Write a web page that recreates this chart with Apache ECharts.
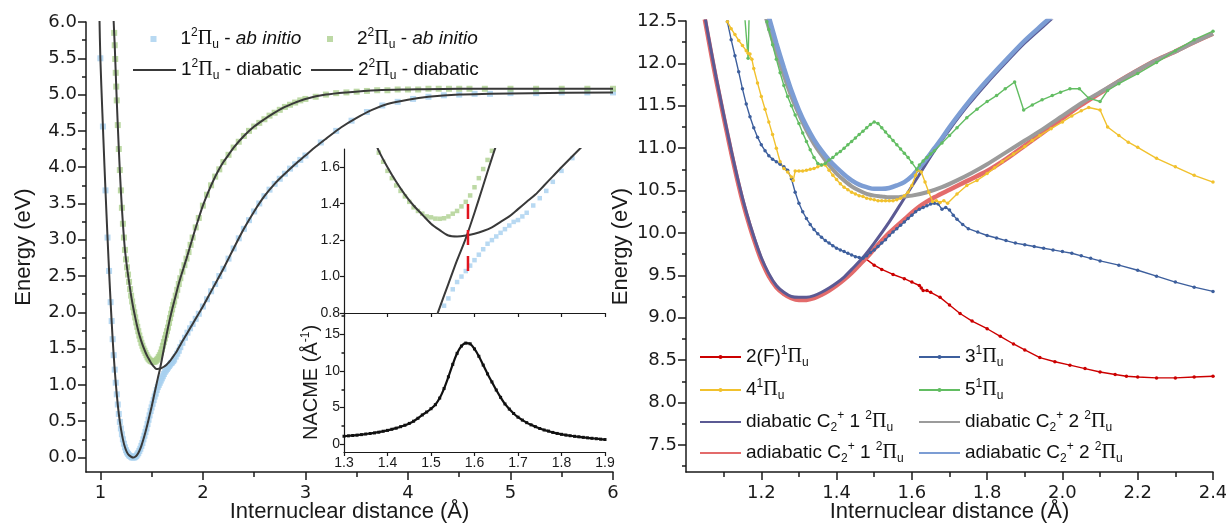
<!DOCTYPE html>
<html><head><meta charset="utf-8">
<script src="https://cdn.jsdelivr.net/npm/echarts@6/dist/echarts.min.js"></script>
<style>html,body{margin:0;padding:0;background:#fff}#c{width:1226px;height:529px}</style>
</head><body><div id="c"></div>
<script>
// ---------------- DATA (left panel, eV vs Å) ----------------
const abInitio1 = [[1.00,5.50],[1.025,4.56],[1.05,3.68],[1.07,3.03],[1.085,2.57],[1.10,2.14],[1.11,1.88],[1.12,1.63],[1.13,1.41],[1.14,1.21],[1.15,1.03],[1.16,0.87],[1.17,0.73],[1.18,0.60],[1.19,0.49],[1.20,0.40],[1.21,0.32],[1.22,0.25],[1.23,0.19],[1.24,0.14],[1.25,0.10],[1.26,0.07],[1.27,0.05],[1.28,0.03],[1.29,0.02],[1.30,0.01],[1.31,0.00],[1.32,0.00],[1.33,0.00],[1.34,0.01],[1.35,0.02],[1.36,0.04],[1.37,0.06],[1.38,0.09],[1.39,0.12],[1.40,0.16],[1.41,0.20],[1.42,0.25],[1.43,0.30],[1.44,0.35],[1.45,0.40],[1.46,0.46],[1.47,0.52],[1.48,0.58],[1.49,0.64],[1.50,0.69],[1.51,0.74],[1.52,0.79],[1.53,0.84],[1.54,0.88],[1.55,0.93],[1.56,0.97],[1.57,1.00],[1.58,1.03],[1.59,1.06],[1.60,1.09],[1.61,1.12],[1.62,1.15],[1.63,1.18],[1.64,1.20],[1.65,1.22],[1.66,1.24],[1.67,1.26],[1.68,1.28],[1.69,1.30],[1.70,1.31],[1.71,1.33],[1.72,1.35],[1.735,1.39],[1.75,1.43],[1.765,1.47],[1.78,1.52],[1.80,1.58],[1.825,1.65],[1.85,1.72],[1.875,1.78],[1.90,1.84],[1.93,1.91],[1.96,1.98],[2.00,2.08],[2.04,2.18],[2.08,2.29],[2.12,2.39],[2.16,2.50],[2.20,2.60],[2.25,2.74],[2.30,2.88],[2.35,3.02],[2.40,3.15],[2.45,3.27],[2.50,3.39],[2.55,3.50],[2.60,3.60],[2.65,3.69],[2.70,3.77],[2.75,3.84],[2.80,3.91],[2.85,3.98],[2.90,4.04],[2.95,4.10],[3.00,4.16],[3.15,4.34],[3.30,4.50],[3.45,4.64],[3.60,4.76],[3.75,4.85],[3.90,4.90],[4.05,4.94],[4.20,4.97],[4.35,4.99],[4.50,5.00],[4.65,5.01],[4.80,5.01],[5.00,5.02],[5.25,5.02],[5.50,5.03],[5.75,5.03],[6.00,5.03]];
const abInitio2 = [[1.135,5.85],[1.14,5.68],[1.145,5.49],[1.15,5.30],[1.155,5.11],[1.16,4.92],[1.17,4.58],[1.18,4.25],[1.19,3.96],[1.20,3.68],[1.21,3.44],[1.22,3.22],[1.23,3.03],[1.24,2.86],[1.25,2.73],[1.26,2.62],[1.27,2.52],[1.28,2.42],[1.29,2.32],[1.30,2.23],[1.31,2.15],[1.32,2.07],[1.33,2.00],[1.34,1.93],[1.35,1.86],[1.36,1.80],[1.37,1.74],[1.38,1.68],[1.39,1.63],[1.40,1.58],[1.41,1.54],[1.42,1.50],[1.43,1.47],[1.44,1.44],[1.45,1.41],[1.46,1.38],[1.47,1.36],[1.48,1.345],[1.49,1.33],[1.50,1.325],[1.51,1.318],[1.52,1.317],[1.53,1.32],[1.54,1.33],[1.55,1.345],[1.56,1.36],[1.57,1.385],[1.58,1.41],[1.59,1.445],[1.60,1.49],[1.61,1.54],[1.62,1.59],[1.63,1.64],[1.64,1.69],[1.65,1.74],[1.66,1.79],[1.67,1.855],[1.68,1.92],[1.69,1.98],[1.70,2.04],[1.71,2.10],[1.72,2.15],[1.735,2.23],[1.75,2.31],[1.765,2.39],[1.78,2.47],[1.80,2.56],[1.82,2.65],[1.84,2.74],[1.86,2.83],[1.88,2.93],[1.90,3.03],[1.93,3.17],[1.96,3.30],[2.00,3.47],[2.04,3.62],[2.08,3.75],[2.12,3.87],[2.16,3.97],[2.20,4.07],[2.25,4.17],[2.30,4.27],[2.35,4.35],[2.40,4.43],[2.45,4.50],[2.50,4.56],[2.55,4.61],[2.60,4.66],[2.65,4.71],[2.70,4.75],[2.75,4.79],[2.80,4.83],[2.85,4.86],[2.90,4.89],[2.95,4.92],[3.00,4.94],[3.10,4.97],[3.20,5.00],[3.30,5.02],[3.40,5.03],[3.50,5.04],[3.60,5.05],[3.70,5.06],[3.80,5.06],[3.90,5.07],[4.00,5.07],[4.10,5.07],[4.20,5.08],[4.30,5.08],[4.40,5.08],[4.50,5.08],[4.60,5.08],[4.75,5.08],[5.00,5.08],[5.25,5.08],[5.50,5.08],[5.75,5.08],[6.00,5.08]];
const diabatic1 = [[0.99,6.15],[1.00,5.50],[1.02,4.74],[1.04,4.02],[1.06,3.35],[1.08,2.72],[1.10,2.14],[1.12,1.63],[1.14,1.21],[1.16,0.87],[1.18,0.60],[1.20,0.40],[1.22,0.25],[1.24,0.14],[1.26,0.07],[1.28,0.03],[1.30,0.01],[1.32,0.00],[1.34,0.01],[1.36,0.04],[1.38,0.09],[1.40,0.16],[1.42,0.25],[1.44,0.35],[1.46,0.46],[1.48,0.58],[1.50,0.70],[1.52,0.83],[1.54,0.96],[1.56,1.09],[1.58,1.21],[1.60,1.35],[1.62,1.50],[1.64,1.65],[1.66,1.79],[1.68,1.92],[1.70,2.04],[1.72,2.15],[1.74,2.26],[1.76,2.37],[1.78,2.47],[1.80,2.56],[1.84,2.74],[1.88,2.93],[1.92,3.12],[1.96,3.30],[2.00,3.47],[2.05,3.65],[2.10,3.81],[2.15,3.95],[2.20,4.07],[2.25,4.17],[2.30,4.27],[2.40,4.43],[2.50,4.56],[2.60,4.66],[2.70,4.75],[2.80,4.83],[2.90,4.89],[3.00,4.94],[3.20,5.00],[3.40,5.03],[3.70,5.06],[4.00,5.07],[4.50,5.08],[5.00,5.08],[6.00,5.08]];
const diabatic2 = [[1.12,6.40],[1.13,6.00],[1.14,5.68],[1.15,5.30],[1.16,4.92],[1.18,4.25],[1.20,3.68],[1.22,3.22],[1.24,2.86],[1.26,2.62],[1.28,2.42],[1.30,2.23],[1.32,2.07],[1.34,1.93],[1.36,1.80],[1.38,1.69],[1.40,1.60],[1.42,1.52],[1.44,1.45],[1.46,1.39],[1.48,1.34],[1.50,1.29],[1.52,1.255],[1.54,1.225],[1.56,1.22],[1.58,1.225],[1.60,1.235],[1.62,1.25],[1.64,1.27],[1.66,1.30],[1.68,1.33],[1.70,1.37],[1.72,1.41],[1.74,1.45],[1.76,1.50],[1.78,1.55],[1.80,1.60],[1.85,1.72],[1.90,1.84],[1.95,1.96],[2.00,2.08],[2.05,2.21],[2.10,2.34],[2.15,2.47],[2.20,2.60],[2.25,2.74],[2.30,2.88],[2.40,3.15],[2.50,3.39],[2.60,3.60],[2.70,3.77],[2.80,3.91],[2.90,4.04],[3.00,4.16],[3.10,4.28],[3.20,4.39],[3.35,4.55],[3.50,4.68],[3.65,4.79],[3.80,4.87],[4.00,4.93],[4.20,4.97],[4.50,5.00],[4.80,5.01],[5.20,5.02],[6.00,5.03]];
const crossingMark = [[1.585,1.03],[1.585,1.42]];
const nacme = [[1.30,1.10],[1.31,1.15],[1.32,1.20],[1.33,1.25],[1.34,1.32],[1.35,1.40],[1.36,1.47],[1.37,1.55],[1.38,1.65],[1.39,1.78],[1.40,1.90],[1.41,2.05],[1.42,2.20],[1.43,2.40],[1.44,2.60],[1.45,2.85],[1.46,3.15],[1.47,3.55],[1.48,4.00],[1.49,4.40],[1.50,4.85],[1.51,5.40],[1.52,6.30],[1.53,7.60],[1.54,9.20],[1.55,10.90],[1.56,12.40],[1.57,13.40],[1.58,13.80],[1.59,13.70],[1.60,13.00],[1.61,12.00],[1.62,10.80],[1.63,9.60],[1.64,8.50],[1.65,7.40],[1.66,6.40],[1.67,5.50],[1.68,4.80],[1.69,4.20],[1.70,3.70],[1.71,3.30],[1.72,2.95],[1.73,2.65],[1.74,2.40],[1.75,2.15],[1.76,1.95],[1.77,1.80],[1.78,1.62],[1.79,1.48],[1.80,1.36],[1.81,1.26],[1.82,1.17],[1.83,1.09],[1.84,1.02],[1.85,0.95],[1.86,0.88],[1.87,0.82],[1.88,0.76],[1.89,0.70],[1.90,0.65]];

// ---------------- DATA (right panel) ----------------
const state2F = [[1.05,12.52],[1.06,12.28],[1.08,11.81],[1.10,11.37],[1.12,10.95],[1.14,10.56],[1.16,10.22],[1.18,9.93],[1.20,9.68],[1.22,9.49],[1.24,9.36],[1.26,9.28],[1.28,9.23],[1.30,9.21],[1.32,9.21],[1.34,9.23],[1.36,9.27],[1.38,9.32],[1.40,9.38],[1.42,9.45],[1.44,9.53],[1.46,9.62],[1.47,9.67],[1.476,9.70],[1.50,9.62],[1.52,9.57],[1.55,9.51],[1.58,9.46],[1.60,9.42],[1.62,9.38],[1.625,9.35],[1.63,9.32],[1.64,9.32],[1.65,9.30],[1.675,9.24],[1.70,9.15],[1.728,9.05],[1.76,8.96],[1.80,8.87],[1.835,8.78],[1.87,8.69],[1.90,8.62],[1.94,8.53],[1.98,8.48],[2.02,8.44],[2.06,8.40],[2.10,8.36],[2.14,8.33],[2.17,8.31],[2.20,8.30],[2.25,8.29],[2.30,8.29],[2.35,8.30],[2.40,8.31]];
const state3 = [[1.11,12.49],[1.12,12.28],[1.13,12.09],[1.14,11.90],[1.15,11.70],[1.16,11.52],[1.17,11.37],[1.18,11.24],[1.19,11.13],[1.20,11.04],[1.21,10.97],[1.22,10.91],[1.23,10.87],[1.24,10.84],[1.25,10.81],[1.26,10.78],[1.27,10.74],[1.28,10.64],[1.29,10.48],[1.30,10.35],[1.31,10.25],[1.32,10.17],[1.33,10.10],[1.34,10.04],[1.35,9.99],[1.36,9.95],[1.37,9.91],[1.38,9.88],[1.39,9.85],[1.40,9.82],[1.41,9.80],[1.42,9.78],[1.43,9.76],[1.44,9.74],[1.45,9.72],[1.46,9.71],[1.47,9.70],[1.48,9.73],[1.49,9.77],[1.50,9.80],[1.51,9.84],[1.52,9.88],[1.53,9.92],[1.54,9.97],[1.55,10.01],[1.56,10.05],[1.57,10.09],[1.58,10.13],[1.59,10.17],[1.60,10.21],[1.61,10.25],[1.62,10.28],[1.63,10.30],[1.64,10.32],[1.65,10.34],[1.66,10.35],[1.67,10.34],[1.68,10.28],[1.69,10.30],[1.70,10.27],[1.71,10.21],[1.72,10.16],[1.735,10.10],[1.75,10.05],[1.775,10.01],[1.80,9.97],[1.825,9.94],[1.85,9.91],[1.875,9.88],[1.90,9.86],[1.925,9.84],[1.95,9.82],[1.975,9.80],[2.00,9.78],[2.025,9.76],[2.05,9.73],[2.075,9.70],[2.10,9.67],[2.15,9.62],[2.20,9.56],[2.25,9.49],[2.30,9.42],[2.35,9.36],[2.40,9.31]];
const state4 = [[1.11,12.49],[1.12,12.41],[1.13,12.34],[1.14,12.27],[1.15,12.21],[1.16,12.15],[1.165,12.12],[1.17,12.11],[1.175,12.05],[1.18,11.94],[1.19,11.77],[1.20,11.61],[1.21,11.46],[1.22,11.31],[1.23,11.16],[1.24,11.00],[1.25,10.84],[1.26,10.76],[1.27,10.72],[1.28,10.66],[1.285,10.62],[1.29,10.73],[1.30,10.73],[1.31,10.73],[1.32,10.74],[1.33,10.75],[1.34,10.76],[1.35,10.78],[1.36,10.80],[1.37,10.80],[1.38,10.74],[1.39,10.68],[1.40,10.63],[1.41,10.58],[1.42,10.54],[1.43,10.51],[1.44,10.48],[1.45,10.46],[1.46,10.44],[1.47,10.43],[1.48,10.41],[1.49,10.40],[1.50,10.39],[1.51,10.38],[1.52,10.38],[1.53,10.38],[1.54,10.38],[1.55,10.38],[1.56,10.39],[1.57,10.41],[1.58,10.44],[1.59,10.48],[1.60,10.56],[1.61,10.68],[1.615,10.74],[1.625,10.72],[1.635,10.60],[1.645,10.48],[1.655,10.37],[1.665,10.38],[1.675,10.36],[1.685,10.38],[1.695,10.35],[1.72,10.46],[1.746,10.56],[1.773,10.62],[1.80,10.70],[1.82,10.77],[1.84,10.84],[1.87,10.93],[1.90,11.02],[1.92,11.09],[1.94,11.15],[1.97,11.23],[2.00,11.31],[2.025,11.38],[2.05,11.44],[2.07,11.48],[2.10,11.45],[2.12,11.25],[2.15,11.15],[2.175,11.07],[2.20,11.01],[2.25,10.88],[2.30,10.78],[2.35,10.68],[2.40,10.60]];
const state5 = [[1.148,13.00],[1.165,12.06],[1.17,13.00],[1.20,13.20],[1.21,12.60],[1.215,12.49],[1.22,12.40],[1.23,12.22],[1.24,12.05],[1.25,11.89],[1.26,11.74],[1.27,11.61],[1.28,11.50],[1.29,11.39],[1.30,11.29],[1.31,11.18],[1.32,11.08],[1.33,10.98],[1.34,10.89],[1.35,10.82],[1.36,10.80],[1.37,10.82],[1.38,10.86],[1.39,10.89],[1.40,10.93],[1.41,10.96],[1.42,11.00],[1.43,11.04],[1.44,11.08],[1.45,11.12],[1.46,11.16],[1.47,11.20],[1.48,11.24],[1.49,11.28],[1.50,11.31],[1.51,11.29],[1.52,11.24],[1.53,11.19],[1.54,11.14],[1.55,11.09],[1.56,11.04],[1.57,10.99],[1.58,10.94],[1.59,10.89],[1.60,10.83],[1.613,10.75],[1.62,10.80],[1.63,10.85],[1.64,10.89],[1.65,10.93],[1.66,10.97],[1.68,11.06],[1.70,11.15],[1.72,11.24],[1.746,11.36],[1.773,11.46],[1.80,11.55],[1.825,11.62],[1.848,11.70],[1.873,11.78],[1.897,11.45],[1.92,11.51],[1.946,11.57],[1.973,11.62],[1.995,11.66],[2.02,11.70],[2.045,11.70],[2.07,11.59],[2.10,11.55],[2.12,11.68],[2.15,11.76],[2.20,11.88],[2.25,12.01],[2.30,12.15],[2.35,12.28],[2.40,12.38]];
const diaC1 = [[1.05,12.56],[1.06,12.31],[1.08,11.84],[1.10,11.40],[1.12,10.98],[1.14,10.59],[1.16,10.25],[1.18,9.96],[1.20,9.71],[1.22,9.52],[1.24,9.38],[1.26,9.30],[1.28,9.25],[1.30,9.24],[1.32,9.24],[1.34,9.26],[1.36,9.30],[1.38,9.35],[1.40,9.41],[1.42,9.48],[1.44,9.57],[1.47,9.71],[1.50,9.88],[1.54,10.13],[1.58,10.41],[1.62,10.69],[1.66,10.97],[1.70,11.22],[1.75,11.51],[1.80,11.77],[1.85,12.01],[1.90,12.24],[1.95,12.44],[1.98,12.56]];
const diaC2 = [[1.21,12.58],[1.22,12.42],[1.24,12.13],[1.26,11.86],[1.28,11.61],[1.30,11.40],[1.32,11.21],[1.34,11.05],[1.36,10.92],[1.38,10.80],[1.40,10.70],[1.42,10.62],[1.44,10.55],[1.46,10.50],[1.48,10.46],[1.50,10.44],[1.52,10.43],[1.54,10.42],[1.56,10.42],[1.58,10.43],[1.60,10.44],[1.64,10.48],[1.68,10.54],[1.72,10.62],[1.76,10.71],[1.80,10.81],[1.85,10.95],[1.90,11.09],[1.95,11.23],[2.00,11.38],[2.05,11.53],[2.10,11.66],[2.15,11.79],[2.20,11.92],[2.25,12.04],[2.30,12.14],[2.35,12.25],[2.40,12.35]];
const adiaC1 = [[1.05,12.52],[1.06,12.28],[1.07,12.04],[1.08,11.81],[1.09,11.59],[1.10,11.37],[1.11,11.16],[1.12,10.95],[1.13,10.75],[1.14,10.56],[1.15,10.38],[1.16,10.22],[1.17,10.07],[1.18,9.93],[1.19,9.80],[1.20,9.68],[1.22,9.49],[1.24,9.36],[1.26,9.28],[1.28,9.23],[1.30,9.21],[1.32,9.21],[1.34,9.23],[1.36,9.27],[1.38,9.32],[1.40,9.38],[1.42,9.45],[1.44,9.53],[1.46,9.62],[1.48,9.71],[1.50,9.81],[1.54,10.00],[1.58,10.16],[1.62,10.31],[1.66,10.42],[1.70,10.51],[1.75,10.62],[1.80,10.73],[1.85,10.87],[1.90,11.03],[1.95,11.19],[2.00,11.35],[2.05,11.51],[2.10,11.65],[2.15,11.79],[2.20,11.92],[2.25,12.04],[2.30,12.14],[2.35,12.25],[2.40,12.35]];
const adiaC2 = [[1.22,12.55],[1.24,12.24],[1.26,11.95],[1.28,11.68],[1.30,11.45],[1.32,11.26],[1.34,11.10],[1.36,10.97],[1.38,10.86],[1.40,10.77],[1.42,10.69],[1.44,10.62],[1.46,10.57],[1.48,10.54],[1.50,10.52],[1.52,10.52],[1.54,10.53],[1.56,10.56],[1.58,10.60],[1.60,10.67],[1.62,10.77],[1.64,10.88],[1.66,11.00],[1.68,11.12],[1.70,11.25],[1.75,11.54],[1.80,11.80],[1.85,12.04],[1.90,12.27],[1.95,12.47],[1.97,12.55]];

// ---------------- TICKS ----------------
const leftXTicks = [1,2,3,4,5,6];
const leftXMinor = [1.5,2.5,3.5,4.5,5.5];
const leftYTicks = [0,0.5,1,1.5,2,2.5,3,3.5,4,4.5,5,5.5,6];
const leftYMinor = [0.25,0.75,1.25,1.75,2.25,2.75,3.25,3.75,4.25,4.75,5.25,5.75];
const insetXTicks = [1.3,1.4,1.5,1.6,1.7,1.8,1.9];
const insetTopYTicks = [0.8,1.0,1.2,1.4,1.6];
const insetBotYTicks = [0,5,10,15];
const insetBotYMinor = [2.5,7.5,12.5,17.5];
const rightXTicks = [1.2,1.4,1.6,1.8,2.0,2.2,2.4];
const rightXMinor = [1.1,1.3,1.5,1.7,1.9,2.1,2.3];
const rightYTicks = [7.5,8,8.5,9,9.5,10,10.5,11,11.5,12,12.5];
const rightYMinor = [7.25,7.75,8.25,8.75,9.25,9.75,10.25,10.75,11.25,11.75,12.25];

// ---------------- STYLE ----------------
const FF = 'Liberation Sans, Arial, sans-serif';
const TF = 'DejaVu Sans, Liberation Sans, sans-serif';
const SERIF = 'Liberation Serif, Times New Roman, serif';
const AX = '#1a1a1a';
const TICKFS = 18;
const rich = {
  n:{fontSize:19,fontFamily:FF,color:'#111',lineHeight:24},
  i:{fontSize:19,fontFamily:FF,fontStyle:'italic',color:'#111',lineHeight:24},
  sup:{fontSize:12,fontFamily:FF,color:'#111',lineHeight:12,verticalAlign:'top'},
  sub:{fontSize:12,fontFamily:FF,color:'#111',lineHeight:10,verticalAlign:'bottom'},
  pi:{fontSize:20,fontFamily:SERIF,color:'#111',lineHeight:24},
  sp:{width:19,lineHeight:24}
};
const LABELS = {
  ab1:'{sp|}{n|1}{sup|2}{pi|Π}{sub|u}{n| - }{i|ab initio}',
  ab2:'{sp|}{n|2}{sup|2}{pi|Π}{sub|u}{n| - }{i|ab initio}',
  dia1:'{n|1}{sup|2}{pi|Π}{sub|u}{n| - diabatic}',
  dia2:'{n|2}{sup|2}{pi|Π}{sub|u}{n| - diabatic}',
  s2F:'{n|2(F)}{sup|1}{pi|Π}{sub|u}',
  s3:'{n|3}{sup|1}{pi|Π}{sub|u}',
  s4:'{n|4}{sup|1}{pi|Π}{sub|u}',
  s5:'{n|5}{sup|1}{pi|Π}{sub|u}',
  dC1:'{n|diabatic C}{sub|2}{sup|+}{n| 1 }{sup|2}{pi|Π}{sub|u}',
  dC2:'{n|diabatic C}{sub|2}{sup|+}{n| 2 }{sup|2}{pi|Π}{sub|u}',
  aC1:'{n|adiabatic C}{sub|2}{sup|+}{n| 1 }{sup|2}{pi|Π}{sub|u}',
  aC2:'{n|adiabatic C}{sub|2}{sup|+}{n| 2 }{sup|2}{pi|Π}{sub|u}'
};

function fmt(d){ return v => v.toFixed(d); }
function xAx(gi, min, max, ticks, labels, dec, o){
  return Object.assign({
    type:'value', gridIndex:gi, min:min, max:max, position:'bottom',
    axisLine:{show:true,onZero:false,lineStyle:{color:AX,width:1.5}},
    axisTick:{show:true,customValues:ticks,length:8,inside:false,lineStyle:{color:AX,width:1.5}},
    axisLabel:{show:!!labels,customValues:labels||[],formatter:fmt(dec),fontSize:TICKFS,color:'#1a1a1a',margin:12,fontFamily:TF},
    splitLine:{show:false}, minorTick:{show:false}
  }, o||{});
}
function yAx(gi, min, max, ticks, labels, dec, o){
  return Object.assign({
    type:'value', gridIndex:gi, min:min, max:max, position:'left',
    axisLine:{show:true,onZero:false,lineStyle:{color:AX,width:1.5}},
    axisTick:{show:true,customValues:ticks,length:8,inside:false,lineStyle:{color:AX,width:1.5}},
    axisLabel:{show:!!labels,customValues:labels||[],formatter:fmt(dec),fontSize:TICKFS,color:'#1a1a1a',margin:9,fontFamily:TF},
    splitLine:{show:false}, minorTick:{show:false}
  }, o||{});
}
function minorX(gi,min,max,ticks,len){ return xAx(gi,min,max,ticks,null,0,{axisLine:{show:false,onZero:false},axisTick:{show:true,customValues:ticks,length:len,lineStyle:{color:AX,width:1.5}}}); }
function minorY(gi,min,max,ticks,len){ return yAx(gi,min,max,ticks,null,0,{axisLine:{show:false,onZero:false},axisTick:{show:true,customValues:ticks,length:len,lineStyle:{color:AX,width:1.5}}}); }

const nameStyleBig = {fontSize:22,color:'#1a1a1a',fontFamily:FF};
const insetLine = {show:true,onZero:false,lineStyle:{color:AX,width:1.2}};
const insetLabel = (vals, dec) => ({show:true,customValues:vals,formatter:fmt(dec),fontSize:14,color:'#1a1a1a',margin:4,fontFamily:FF});

const xAxes = [
  xAx(0,0.86,6,leftXTicks,leftXTicks,0,{name:'Internuclear distance (Å)',nameLocation:'middle',nameGap:29,nameTextStyle:nameStyleBig,nameMoveOverlap:false}),
  minorX(0,0.86,6,leftXMinor,5),
  xAx(1,1.3,1.9,insetXTicks,null,1,{axisTick:{show:true,customValues:insetXTicks,length:4,lineStyle:{color:AX,width:1.2}},axisLine:insetLine}),
  xAx(2,1.3,1.9,insetXTicks,insetXTicks,1,{axisTick:{show:true,customValues:insetXTicks,length:4,lineStyle:{color:AX,width:1.2}},axisLine:insetLine,axisLabel:insetLabel(insetXTicks,1)}),
  xAx(3,1.0,2.4,rightXTicks,rightXTicks,1,{name:'Internuclear distance (Å)',nameLocation:'middle',nameGap:29,nameTextStyle:nameStyleBig,nameMoveOverlap:false}),
  minorX(3,1.0,2.4,rightXMinor,5)
];
const yAxes = [
  yAx(0,-0.2,6,leftYTicks,leftYTicks,1,{name:'Energy (eV)',nameLocation:'middle',nameGap:51,nameTextStyle:nameStyleBig,nameMoveOverlap:false}),
  minorY(0,-0.2,6,leftYMinor,4),
  yAx(1,0.8,1.7,insetTopYTicks,insetTopYTicks,1,{axisTick:{show:true,customValues:insetTopYTicks,length:4,lineStyle:{color:AX,width:1.2}},axisLine:insetLine,axisLabel:insetLabel(insetTopYTicks,1)}),
  yAx(2,-1.05,17.9,insetBotYTicks,insetBotYTicks,0,{axisTick:{show:true,customValues:insetBotYTicks,length:4,lineStyle:{color:AX,width:1.2}},axisLine:insetLine,axisLabel:insetLabel(insetBotYTicks,0),
    name:'{n|NACME (Å}{s|-1}{n|)}',nameLocation:'middle',nameGap:22,nameMoveOverlap:false,nameTextStyle:{rich:{n:{fontSize:20,fontFamily:FF,color:'#1a1a1a',lineHeight:22},s:{fontSize:12,fontFamily:FF,color:'#1a1a1a',lineHeight:12,verticalAlign:'top'}}}}),
  minorY(2,-1.05,17.9,insetBotYMinor,2.5),
  yAx(3,7.18,12.5,rightYTicks,rightYTicks,1,{name:'Energy (eV)',nameLocation:'middle',nameGap:54,nameTextStyle:nameStyleBig,nameMoveOverlap:false}),
  minorY(3,7.18,12.5,rightYMinor,4)
];

function line(name, data, xi, yi, color, width, extra){
  return Object.assign({type:'line', name:name, data:data, xAxisIndex:xi, yAxisIndex:yi, symbol:'none', symbolSize:0, showSymbol:false,
    smooth:0.3, clip:true, lineStyle:{color:color,width:width}, itemStyle:{color:color,opacity:0}, silent:true, animation:false}, extra||{});
}
function dots(name, data, xi, yi, color, z){
  return {type:'line', name:name, data:data, xAxisIndex:xi, yAxisIndex:yi, symbol:'circle', symbolSize:3.5, showSymbol:true, showAllSymbol:true,
    clip:true, lineStyle:{color:color,width:1.4}, itemStyle:{color:color}, silent:true, z:z, animation:false};
}
function pts(name, data, xi, yi, color, size){
  return {type:'scatter', name:name, data:data, xAxisIndex:xi, yAxisIndex:yi, symbol:'rect', symbolSize:size, clip:true,
    itemStyle:{color:color}, silent:true, z:2, animation:false};
}
const C_AB1='#a6d0ef', C_AB2='#add08e', C_DIA='#393939';

const series = [
  pts('ab1', abInitio1, 0, 0, C_AB1, 6),
  pts('ab2', abInitio2, 0, 0, C_AB2, 6),
  line('dia1', diabatic1, 0, 0, C_DIA, 2, {z:4}),
  line('dia2', diabatic2, 0, 0, C_DIA, 2, {z:4}),
  // inset top
  pts('ab1i', abInitio1, 2, 2, C_AB1, 4.5),
  pts('ab2i', abInitio2, 2, 2, C_AB2, 4.5),
  line('dia1i', diabatic1, 2, 2, C_DIA, 2, {z:4}),
  line('dia2i', diabatic2, 2, 2, C_DIA, 2, {z:4}),
  line('cross', crossingMark, 2, 2, '#e0141e', 2.5, {smooth:false, z:5, lineStyle:{color:'#e0141e',width:2.5,type:[15,11]}}),
  // inset bottom
  {type:'line', name:'nacme', data:nacme, xAxisIndex:3, yAxisIndex:3, symbol:'rect', symbolSize:3, showAllSymbol:true, smooth:0.3,
    lineStyle:{color:'#111',width:2.2}, itemStyle:{color:'#111'}, silent:true, animation:false},
  // right panel
  dots('s2F', state2F, 4, 5, '#cc0000', 2),
  line('aC1', adiaC1, 4, 5, '#e36b6b', 4.5, {z:3}),
  line('dC1', diaC1, 4, 5, '#5b5a94', 3, {z:4}),
  line('dC2', diaC2, 4, 5, '#9b9b9b', 4, {z:4}),
  line('aC2', adiaC2, 4, 5, '#7c9dd4', 4.5, {z:5}),
  dots('s3', state3, 4, 5, '#3d5f9d', 6),
  dots('s4', state4, 4, 5, '#f1c12d', 6),
  dots('s5', state5, 4, 5, '#62bd62', 6)
];

function leg(name, left, cy, w, h, icon, hideSymbol){
  const l = {data:[name], left:left, top:cy - 12, orient:'horizontal', itemWidth:w, itemHeight:h, itemGap:0, padding:0,
    selectedMode:false, formatter:n => LABELS[n], textStyle:{rich:rich, fontSize:19, color:'#111', fontFamily:FF}};
  if (icon) l.icon = icon;
  if (hideSymbol) l.itemStyle = {opacity:0};
  return l;
}
const legends = [
  leg('ab1', 150.5, 39, 6, 6, 'rect'),
  leg('ab2', 327, 39, 6, 6, 'rect'),
  leg('dia1', 132, 70, 43, 5, null, true),
  leg('dia2', 310, 70, 42, 5, null, true),
  leg('s2F', 699, 357, 41, 5),
  leg('s3', 918, 357, 41, 5),
  leg('s4', 699, 390, 41, 5),
  leg('s5', 918, 390, 41, 5),
  leg('dC1', 699, 422, 41, 5, null, true),
  leg('dC2', 918, 422, 41, 5, null, true),
  leg('aC1', 699, 453, 41, 5, null, true),
  leg('aC2', 918, 453, 41, 5, null, true)
];

const option = {
  animation:false,
  backgroundColor:'#ffffff',
  textStyle:{fontFamily:FF},
  grid:[
    {left:86, right:613, top:22, bottom:57, outerBoundsMode:'none', containLabel:false},
    {left:344, right:621, top:149, bottom:216, outerBoundsMode:'none', containLabel:false},
    {left:344, right:621, top:313, bottom:77, outerBoundsMode:'none', containLabel:false},
    {left:686, right:13, top:21, bottom:57, outerBoundsMode:'none', containLabel:false}
  ],
  xAxis:xAxes,
  yAxis:yAxes,
  legend:legends,
  series:series
};
const chart = echarts.init(document.getElementById('c'), null, {renderer:'canvas'});
chart.setOption(option);
</script></body></html>
